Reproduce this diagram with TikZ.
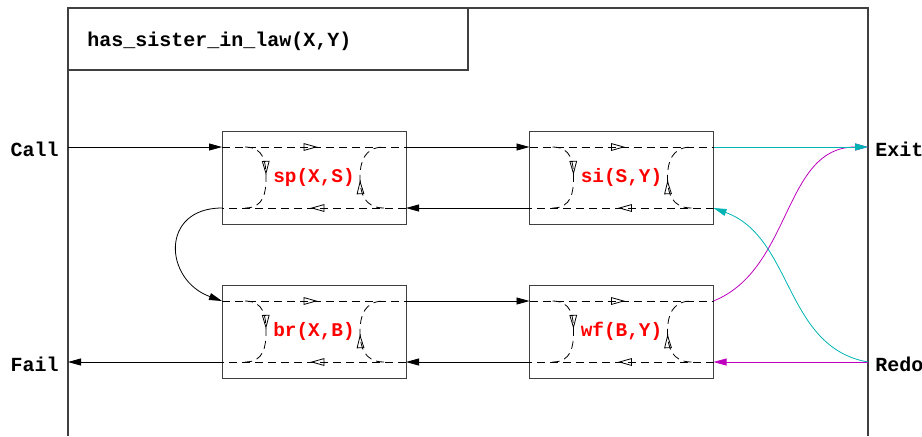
\documentclass[tikz,border=0pt]{standalone}
\usepackage{fontspec}
\setmonofont{Liberation Mono}
\usetikzlibrary{arrows.meta,decorations.markings}
\definecolor{exitcyan}{RGB}{0,180,180}
\definecolor{redomag}{RGB}{190,0,190}

\begin{document}
\begin{tikzpicture}[x = .5pt, y = .5pt,
    port/.style = {font = \ttfamily\bfseries, inner sep = 0pt},
    goal/.style = {draw = black!75, minimum width = 92pt, minimum height = 46.5pt, inner sep = 0pt,
                   text = red, font = \ttfamily\bfseries\fontsize{9.7}{11}\selectfont},
    flow/.style = {-{Triangle[length = 6.5pt, width = 3.5pt]}},
    dashtrack/.style = {dash pattern = on 4pt off 2.5pt, postaction = {decorate},
                        decoration = {markings, mark = at position #1 with {\arrow{Triangle[open, length = 7pt, width = 3.8pt]}}}},
    dashtrack/.default = .52]
    \useasboundingbox (0,0) rectangle (922,-436);
    % frame and head of the clause
    \draw [black!75, line width = .6pt] (68,-436) -- (68,-8) -- (868,-8) -- (868,-436);
    \draw [black!75, line width = .6pt] (68,-8) rectangle (468,-70);
    \node (title) at (87,-41) [port, anchor = west] {has\_sister\_in\_law(X,Y)};
    % ports of the clause
    \coordinate (callpt) at ( 68,-147);
    \coordinate (failpt) at ( 68,-362);
    \coordinate (exitpt) at (868,-147);
    \coordinate (redopt) at (868,-362);
    \node (call) at ( 59,-149) [port, anchor = east] {Call};
    \node (fail) at ( 59,-364) [port, anchor = east] {Fail};
    \node (exit) at (875,-149) [port, anchor = west] {Exit};
    \node (redo) at (875,-364) [port, anchor = west] {Redo};
    % goals
    \node (sp) at (314,  -177.5) [goal] {sp(X,S)};
    \node (si) at (621.5,-177.5) [goal] {si(S,Y)};
    \node (br) at (314,  -331.5) [goal] {br(X,B)};
    \node (wf) at (621.5,-331.5) [goal] {wf(B,Y)};
    \foreach \g/\x/\y in {sp/314/-177.5, si/621.5/-177.5, br/314/-331.5, wf/621.5/-331.5} {
      \coordinate (\g-call) at ({\x-92},{\y+30.5});
      \coordinate (\g-exit) at ({\x+92},{\y+30.5});
      \coordinate (\g-redo) at ({\x+92},{\y-30.5});
      \coordinate (\g-fail) at ({\x-92},{\y-30.5});
      \draw [dashtrack] (\g-call) -- (\g-exit);
      \draw [dashtrack] (\g-redo) -- (\g-fail);
      \draw [dashtrack = .47] ({\x-69},{\y+30.5}) .. controls ({\x-50},{\y+30.5}) and ({\x-48},{\y+15}) .. ({\x-48},\y)
                              .. controls ({\x-48},{\y-15}) and ({\x-50},{\y-30.5}) .. ({\x-69},{\y-30.5});
      \draw [dashtrack = .47] ({\x+70},{\y-30.5}) .. controls ({\x+50},{\y-30.5}) and ({\x+46},{\y-15}) .. ({\x+46},\y)
                              .. controls ({\x+46},{\y+15}) and ({\x+50},{\y+30.5}) .. ({\x+70},{\y+30.5});
    }
    % connections
    \draw [flow] (callpt) -- (sp-call);
    \draw [flow] (sp-exit) -- (si-call);
    \draw [flow] (si-fail) -- (sp-redo);
    \draw [flow] (sp-fail) .. controls +(180:62) and +(160:62) .. (br-call);
    \draw [flow] (br-exit) -- (wf-call);
    \draw [flow] (wf-fail) -- (br-redo);
    \draw [flow] (br-fail) -- (failpt);
    \draw [flow, redomag] (wf-exit) to [out = 22, in = 180] (exitpt);
    \draw [flow, exitcyan] (si-exit) -- (exitpt);
    \draw [flow, exitcyan] (redopt) to [out = 170, in = -20] (si-redo);
    \draw [flow, redomag] (redopt) -- (wf-redo);
  \end{tikzpicture}
\end{document}
